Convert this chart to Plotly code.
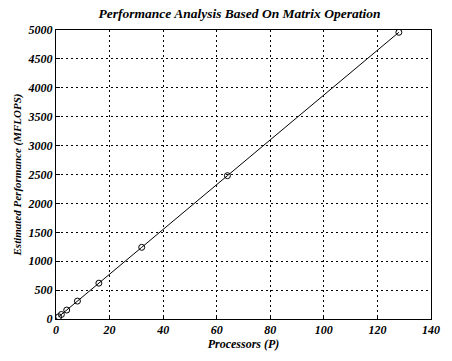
import plotly.graph_objects as go

processors = [1, 2, 4, 8, 16, 32, 64, 128]
performance = [39, 78, 155, 310, 620, 1240, 2480, 4960]

x_ticks = [0, 20, 40, 60, 80, 100, 120, 140]
y_ticks = [0, 500, 1000, 1500, 2000, 2500, 3000, 3500, 4000, 4500, 5000]

def f(size):
    return dict(family="Liberation Serif", size=size, color="black", weight="bold", style="italic")

fig = go.Figure()
fig.add_trace(go.Scatter(
    x=processors, y=performance, mode="lines+markers",
    line=dict(color="black", width=1),
    marker=dict(symbol="circle-open", size=6, color="black", line=dict(width=1)),
    showlegend=False,
))

axis_common = dict(
    showline=True, linecolor="black", linewidth=1, mirror=True,
    showgrid=True, gridcolor="black", gridwidth=1, griddash="2px,3px",
    ticks="inside", ticklen=4, tickcolor="black",
    zeroline=False, tickfont=f(12),
)

fig.update_layout(
    width=452, height=361,
    margin=dict(l=56, r=16, t=30, b=37),
    paper_bgcolor="white", plot_bgcolor="white",
    font=f(12),
    title=dict(text="Performance Analysis Based On Matrix Operation",
               x=0.53, xanchor="center", y=0.963, yanchor="middle",
               font=f(13.5)),
    xaxis=dict(range=[0, 140], tickvals=x_ticks, ticktext=[str(v) for v in x_ticks],
               title=dict(text="Processors (P)", standoff=3, font=f(12)), **axis_common),
    yaxis=dict(range=[0, 5000], tickvals=y_ticks, ticktext=[str(v) for v in y_ticks],
               title=dict(text="Estimated Performance (MFLOPS)", standoff=3, font=f(11)), **axis_common),
)

fig.write_html("out.html")
